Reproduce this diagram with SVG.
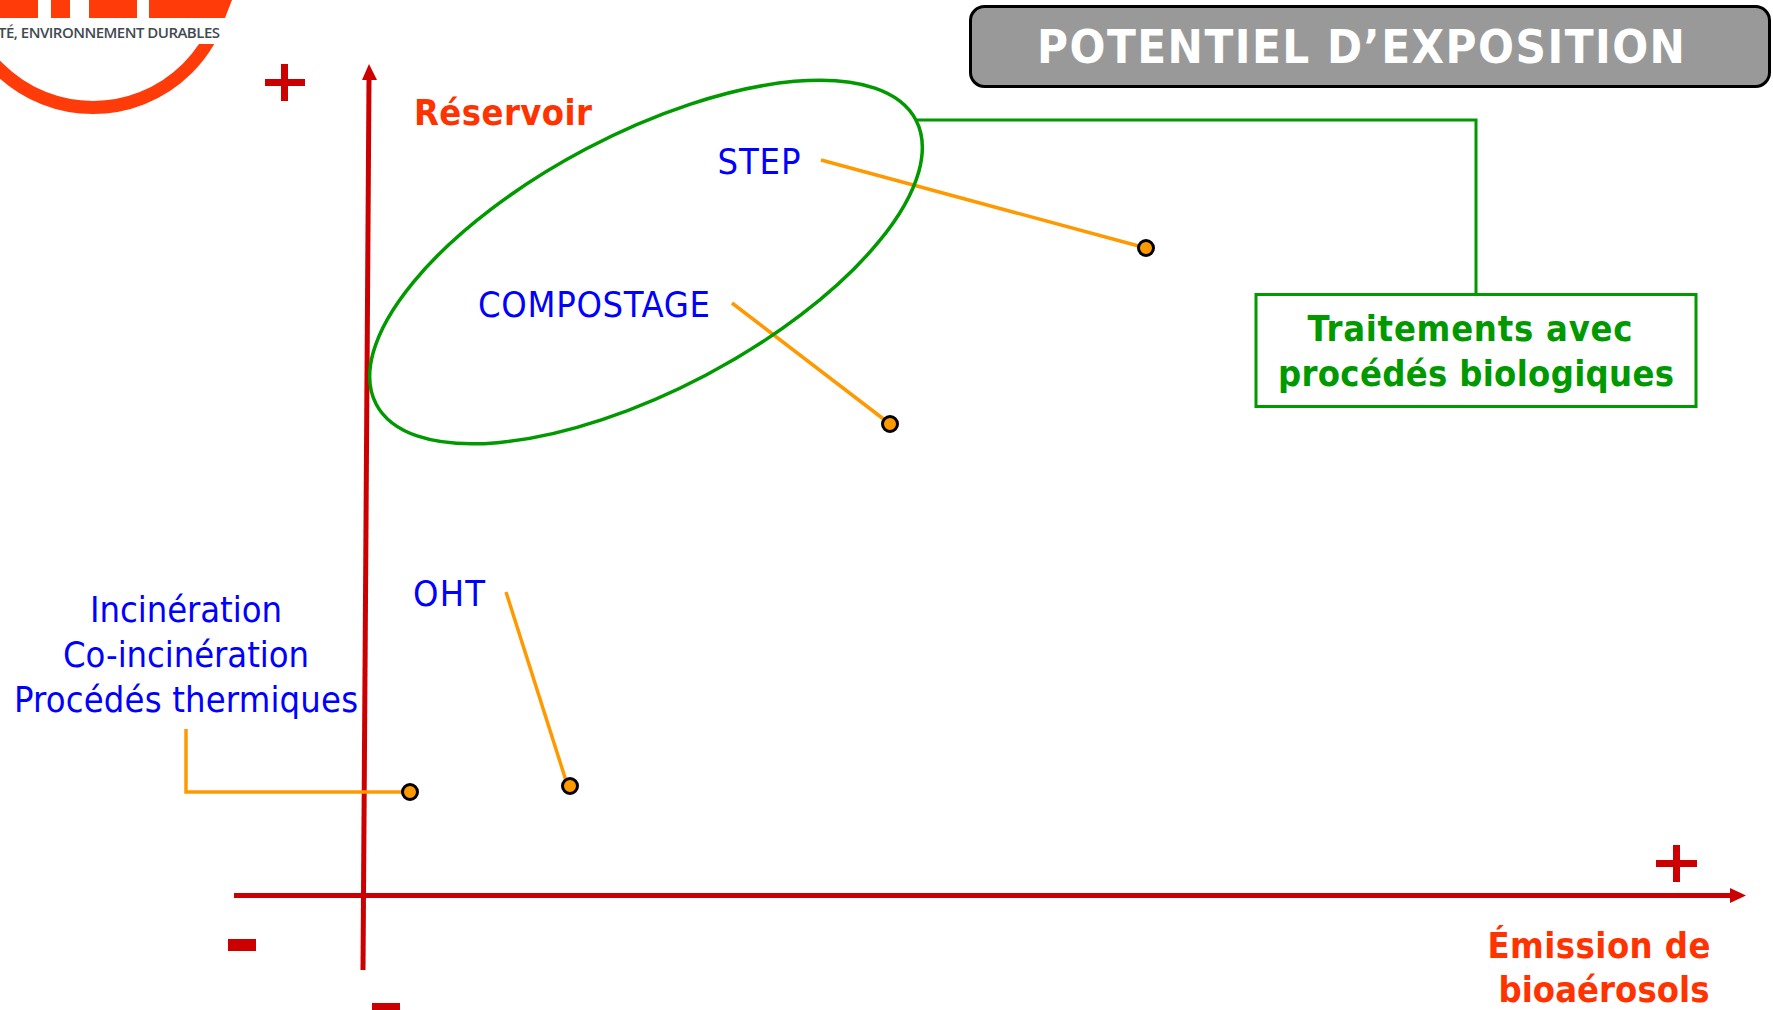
<svg xmlns="http://www.w3.org/2000/svg" width="1773" height="1010" viewBox="0 0 1773 1010">
<defs>
<style>
.lbl{font-family:"DejaVu Sans Condensed","DejaVu Sans",sans-serif;font-size:36px;fill:#0000ff;text-anchor:middle}
.org{font-family:"DejaVu Sans Condensed","DejaVu Sans",sans-serif;font-weight:bold;font-size:36px;fill:#ff3300;text-anchor:middle}
.grn{font-family:"DejaVu Sans Condensed","DejaVu Sans",sans-serif;font-weight:bold;font-size:36px;fill:#009900;text-anchor:middle}
.ax{stroke:#cc0000;stroke-width:5;fill:none}
.lead{stroke:#ff9900;stroke-width:3.5;fill:none}
.dot{fill:#ff9900;stroke:#000;stroke-width:3}
.red{fill:#cc0000}
</style>
<clipPath id="ringclip"><rect x="0" y="44" width="300" height="100"/></clipPath>
</defs>
<rect width="1773" height="1010" fill="#fff"/>
<g id="logo">
<circle cx="93" cy="-26" r="133.500" fill="none" stroke="#ff3b0a" stroke-width="13" clip-path="url(#ringclip)"/>
<path d="M0 0H38V18H0ZM51 0H70V18H51ZM89 0H137V18H89ZM149 0H232L225 18H149Z" fill="#ff3b0a"/>
<text x="220" y="38" font-family="Open Sans,Noto Sans,sans-serif" font-size="15" font-weight="600" fill="#3f4a50" text-anchor="end" textLength="222">TÉ, ENVIRONNEMENT DURABLES</text>
</g>
<g id="title">
<rect x="970.500" y="6.500" width="799" height="80" rx="14" fill="#999999" stroke="#000" stroke-width="3"/>
<text x="1361" y="63" font-family="DejaVu Sans Condensed,DejaVu Sans,sans-serif" font-weight="bold" font-size="47" fill="#fff" text-anchor="middle" textLength="648">POTENTIEL D’EXPOSITION</text>
</g>
<g id="connectors">
<path class="ax" d="M363 970 L369 80"/>
<path class="red" d="M369 64 L377 80 L362 80 Z"/>
<path class="ax" d="M234 895.500 H1730"/>
<path class="red" d="M1746 895.500 L1730 888 V903 Z"/>
<path d="M917 120 H1476 V294" fill="none" stroke="#009900" stroke-width="3"/>
<path class="lead" d="M821 160 L1146 248"/>
<path class="lead" d="M732 303 L890 424"/>
<path class="lead" d="M506 592 L568 787"/>
<path class="lead" d="M186 729 V792 H410"/>
</g>
<g id="ellipse"><ellipse cx="646" cy="262" rx="305" ry="128" transform="rotate(-27.800 646 262)" fill="none" stroke="#009900" stroke-width="3.500"/></g>
<g id="plus-y"><path class="red" d="M265 79H305V86H265ZM281 64H288V101H281Z"/></g>
<g id="plus-x"><path class="red" d="M1656 860H1697V867H1656ZM1673 845H1680V882H1673Z"/></g>
<g id="minus-x"><rect class="red" x="228" y="939" width="28" height="12"/></g>
<g id="minus-y"><rect class="red" x="372" y="1003" width="28" height="7"/></g>
<g id="reservoir"><text class="org" x="503" y="125" textLength="178">Réservoir</text></g>
<g id="emission"><text class="org" x="1599" y="958" textLength="223">Émission de</text><text class="org" x="1604" y="1002" textLength="211">bioaérosols</text></g>
<g id="step"><text class="lbl" x="759" y="174" textLength="83">STEP</text><circle class="dot" cx="1146" cy="248" r="7.500"/></g>
<g id="compostage"><text class="lbl" x="594" y="317" textLength="232">COMPOSTAGE</text><circle class="dot" cx="890" cy="424" r="7.500"/></g>
<g id="oht"><text class="lbl" x="449" y="606" textLength="72">OHT</text><circle class="dot" cx="570" cy="786" r="7.500"/></g>
<g id="thermal"><text class="lbl" x="186" y="622" textLength="192">Incinération</text><text class="lbl" x="186" y="667" textLength="246">Co-incinération</text><text class="lbl" x="186" y="712" textLength="344">Procédés thermiques</text><circle class="dot" cx="410" cy="792" r="7.500"/></g>
<g id="traitements"><rect x="1256" y="294.500" width="440" height="112" fill="#fff" stroke="#009900" stroke-width="3"/><text class="grn" x="1470" y="341" textLength="325">Traitements avec</text><text class="grn" x="1476" y="386" textLength="396">procédés biologiques</text></g>
</svg>
